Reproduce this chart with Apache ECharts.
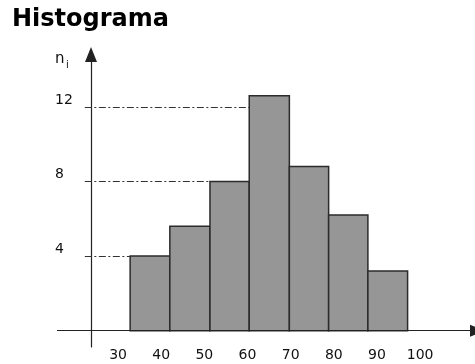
<!DOCTYPE html>
<html>
<head>
<meta charset="utf-8">
<script src="https://cdn.jsdelivr.net/npm/echarts@6/dist/echarts.min.js"></script>
<style>
html,body{margin:0;padding:0;background:#fff;}
#chart{width:475px;height:364px;}
</style>
</head>
<body>
<div id="chart"></div>
<script>
// Class edges of the bars (as drawn, on the x scale 30..100)
const edges = [32.8, 42.0, 51.3, 60.4, 69.7, 78.8, 87.9, 97.1];
// Frequencies n_i (bar heights as drawn)
const counts = [4, 5.6, 8, 12.6, 8.8, 6.2, 3.2];
// Tick labels
const xTicks = [30, 40, 50, 60, 70, 80, 90, 100];
const yTicks = [4, 8, 12];

const FONT = 'DejaVu Sans';
const X_MIN = 15.85, X_MAX = 113.3;

const barData = counts.map((c, i) => [edges[i], edges[i + 1], c]);

// Reference lines: from the y axis to the left edge of the first bar reaching the tick value
const refLines = yTicks.map(v => {
  const i = counts.findIndex(c => c >= v - 0.01);
  return [{ coord: [22.3, v] }, { coord: [edges[i], v] }];
});

const chart = echarts.init(document.getElementById('chart'), null, { renderer: 'canvas' });
chart.setOption({
  animation: false,
  backgroundColor: '#fff',
  title: [
    { text: 'Histograma', left: 12, top: 8, padding: 0,
      textStyle: { fontFamily: FONT, fontWeight: 'bold', fontSize: 24, color: '#000' } },
    { text: 'n', left: 55, top: 52, padding: 0,
      textStyle: { fontFamily: FONT, fontWeight: 'normal', fontSize: 15, color: '#111' } },
    { text: 'i', left: 66, top: 60, padding: 0,
      textStyle: { fontFamily: FONT, fontWeight: 'normal', fontSize: 10, color: '#111' } }
  ],
  grid: { left: 57, top: 54.5, width: 420.5, height: 292.5, outerBoundsMode: 'none' },
  xAxis: {
    type: 'value', min: X_MIN, max: X_MAX,
    axisLine: { show: false, onZero: false },
    axisTick: { show: false },
    splitLine: { show: false },
    axisLabel: { customValues: xTicks, margin: 1, fontSize: 14, color: '#111', fontFamily: FONT }
  },
  yAxis: {
    type: 'value', min: -0.874, max: 14.81, offset: -34,
    axisLine: { show: true, onZero: false, lineStyle: { color: '#222', width: 1.2 },
      symbol: ['none', 'triangle'], symbolSize: [12, 15] },
    axisTick: { show: false },
    splitLine: { show: false },
    axisLabel: { customValues: yTicks, align: 'left', verticalAlign: 'bottom', margin: 36,
      fontSize: 14, color: '#111', fontFamily: FONT }
  },
  series: [{
    type: 'custom',
    data: barData,
    encode: { x: [0, 1], y: 2 },
    renderItem: function (params, api) {
      const p0 = api.coord([api.value(0), 0]);
      const p1 = api.coord([api.value(1), api.value(2)]);
      return {
        type: 'rect',
        shape: { x: p0[0], y: p1[1], width: p1[0] - p0[0], height: p0[1] - p1[1] },
        style: { fill: '#969696', stroke: '#2b2b2b', lineWidth: 1.5 }
      };
    },
    markLine: {
      silent: true, symbol: 'none', animation: false,
      label: { show: false },
      lineStyle: { type: [7, 2.5, 2, 2.5], color: '#333', width: 1 },
      data: refLines
    }
  }, {
    // x axis line (at n_i = 0) with its arrow
    type: 'line',
    data: [],
    silent: true,
    markLine: {
      silent: true, animation: false,
      symbol: ['none', 'triangle'], symbolSize: [12, 15],
      label: { show: false },
      lineStyle: { type: 'solid', color: '#222', width: 1.2 },
      data: [[{ coord: [X_MIN, 0] }, { coord: [X_MAX, 0] }]]
    }
  }]
});
</script>
</body>
</html>
